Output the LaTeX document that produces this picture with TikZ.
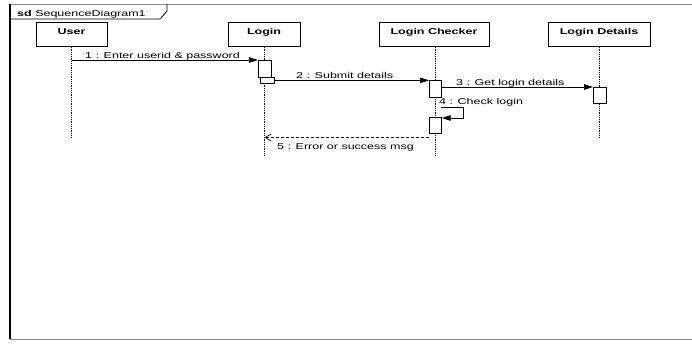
\documentclass[tikz,border=0pt]{standalone}
\usepackage{fontspec}
\setmainfont[FakeStretch=1.47]{Liberation Sans}
\usetikzlibrary{arrows.meta}
\begin{document}
\begin{tikzpicture}[x=1pt,y=-1pt,
  every node/.style={font=\fontsize{8.5}{10}\selectfont, inner sep=0pt},
  head/.style={draw=black, fill=white, line width=0.8pt, minimum height=24pt},
  htext/.style={font=\fontsize{8.5}{10}\selectfont\bfseries, anchor=base},
  act/.style={draw=black, fill=white, line width=0.7pt, anchor=north west},
  life/.style={densely dotted, line width=0.8pt},
  msg/.style={line width=0.7pt, -{Triangle[length=9pt,width=5.5pt]}},
  ret/.style={line width=0.7pt, dash pattern=on 3pt off 2pt, -{Straight Barb[length=6pt,width=7pt]}},
  lbl/.style={anchor=base west},
  framegray/.style={draw=black!45, line width=1pt}
]
\useasboundingbox (0,0) rectangle (692,343);
% frame
\draw[framegray] (10,4) -- (692,4);
\draw[framegray] (10,339) -- (692,339);
\draw[black, line width=1.2pt] (10,4) -- (10,339);
\draw[line width=0.8pt] (10,19) -- (160,19) -- (167,11) -- (167,4);
\node[lbl] (title) at (17,16) {\textbf{sd} SequenceDiagram1};
% heads
\node[head, minimum width=71pt, anchor=north] (user) at (71.5,22) {};
\node[head, minimum width=72pt, anchor=north] (login) at (264,22) {};
\node[head, minimum width=110pt, anchor=north] (checker) at (434,22) {};
\node[head, minimum width=102pt, anchor=north] (details) at (599,22) {};
\node[htext] (userT) at (71.5,34.5) {User};
\node[htext] (loginT) at (264,34.5) {Login};
\node[htext] (checkerT) at (434,34.5) {Login Checker};
\node[htext] (detailsT) at (599,34.5) {Login Details};
% lifelines
\coordinate (userE) at (71.5,137);
\coordinate (loginE) at (264.5,155);
\coordinate (checkerE) at (435,155);
\coordinate (detailsE) at (599.5,137);
\draw[life] (user.south) -- (userE);
\draw[life] (login.south -| loginE) -- (loginE);
\draw[life] (checker.south -| checkerE) -- (checkerE);
\draw[life] (details.south -| detailsE) -- (detailsE);
% activations
\node[act, minimum width=13pt, minimum height=17pt] (aL1) at (258,60) {};
\node[act, minimum width=14pt, minimum height=6pt] (aL2) at (260,77) {};
\node[act, minimum width=12pt, minimum height=17pt] (aC1) at (429,80) {};
\node[act, minimum width=13pt, minimum height=16pt] (aD1) at (593,87) {};
\node[act, minimum width=12pt, minimum height=16pt] (aC2) at (429,117) {};
% message 1
\coordinate (m1s) at (71.5,60);
\draw[msg] (m1s) -- (aL1.north west);
\node[lbl] (l1) at (85,58) {1 : Enter userid \& password};
% message 2
\draw[msg] (aL2.east) -- (aL2.east -| aC1.west);
\node[lbl] (l2) at (296,78) {2 : Submit details};
% message 3
\draw[msg] (aC1.east |- aD1.north) -- (aD1.north west);
\node[lbl] (l3) at (456,85) {3 : Get login details};
% message 4 (self)
\coordinate (s4a) at (441,107);
\coordinate (s4b) at (463,107);
\coordinate (s4c) at (463,118);
\draw[msg] (s4a) -- (s4b) -- (s4c) -- (s4c -| aC2.east);
\node[lbl] (l4) at (439,104) {4 : Check login};
% message 5 (return)
\coordinate (r5s) at (429,137.5);
\draw[ret] (r5s) -- (r5s -| loginE);
\node[lbl] (l5) at (277,149) {5 : Error or success msg};
\end{tikzpicture}
\end{document}
